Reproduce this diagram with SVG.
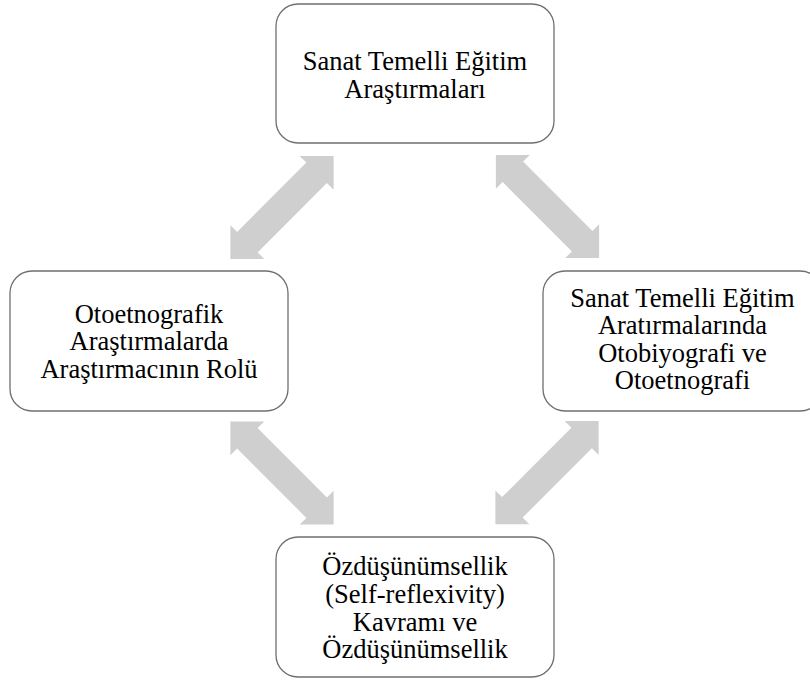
<svg xmlns="http://www.w3.org/2000/svg" width="810" height="682" viewBox="0 0 810 682">
<style>
.box{fill:#ffffff;stroke:#6f6f6f;stroke-width:1.3}
.lbl{font-family:"Liberation Serif","Times New Roman",serif;font-size:26.5px;fill:#000;text-anchor:middle}
.arr{fill:#cfcfcf}
</style>
<defs>
<polygon id="dbl" points="-73,0 -49,-24 -49,-14.5 49,-14.5 49,-24 73,0 49,24 49,14.5 -49,14.5 -49,24"/>
</defs>
<rect width="810" height="682" fill="#ffffff"/>
<g id="connectors">
<use href="#dbl" class="arr" transform="translate(282,207.5) rotate(-45)"/>
<use href="#dbl" class="arr" transform="translate(547.5,206.5) rotate(45)"/>
<use href="#dbl" class="arr" transform="translate(282,473) rotate(45)"/>
<use href="#dbl" class="arr" transform="translate(547,472.7) rotate(-45)"/>
</g>
<g id="node-top">
<rect class="box" x="276" y="4" width="278" height="139" rx="22"/>
<text class="lbl"><tspan x="415" y="70">Sanat Temelli Eğitim</tspan><tspan x="415" y="98.3">Araştırmaları</tspan></text>
</g>
<g id="node-left">
<rect class="box" x="10" y="271" width="278" height="140" rx="22"/>
<text class="lbl"><tspan x="149" y="322.7">Otoetnografik</tspan><tspan x="149" y="350">Araştırmalarda</tspan><tspan x="149" y="377.7">Araştırmacının Rolü</tspan></text>
</g>
<g id="node-right">
<rect class="box" x="543" y="271" width="279" height="140" rx="22"/>
<text class="lbl"><tspan x="682.5" y="306.7">Sanat Temelli Eğitim</tspan><tspan x="682.5" y="334.3">Aratırmalarında</tspan><tspan x="682.5" y="361.7">Otobiyografi ve</tspan><tspan x="682.5" y="389.3">Otoetnografi</tspan></text>
</g>
<g id="node-bottom">
<rect class="box" x="276" y="537" width="278" height="140" rx="22"/>
<text class="lbl"><tspan x="415" y="575">Özdüşünümsellik</tspan><tspan x="415" y="603">(Self-reflexivity)</tspan><tspan x="415" y="630.5">Kavramı ve</tspan><tspan x="415" y="658">Özdüşünümsellik</tspan></text>
</g>
</svg>
